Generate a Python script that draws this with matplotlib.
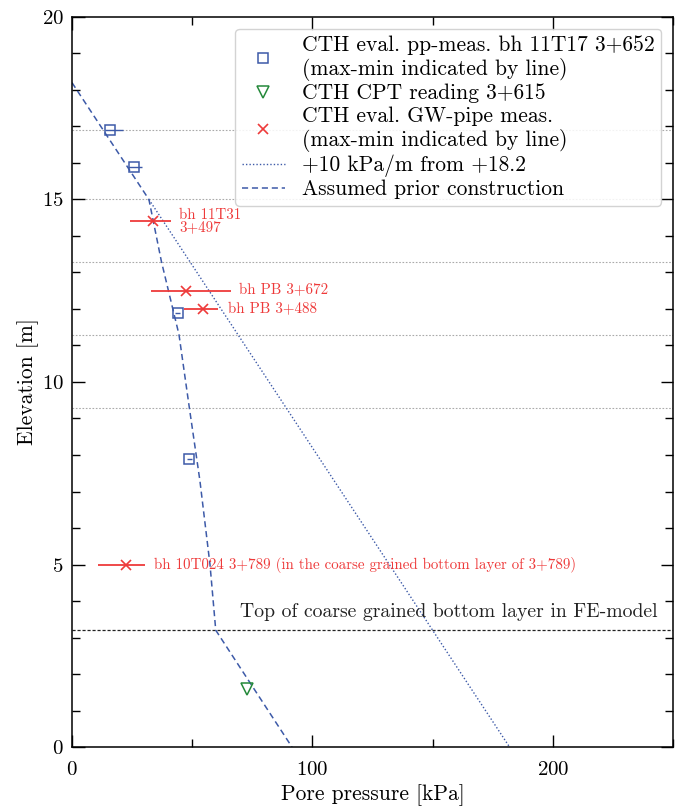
import matplotlib
matplotlib.use("Agg")
import matplotlib.pyplot as plt

# pore pressure measurements, bh 11T17 3+652 (kPa, m)
pp_p = [16.0, 26.0, 43.9, 48.8]
pp_z = [16.9, 15.9, 11.9, 7.9]
pp_lo = [13.6, 23.3, 42.9, 47.8]
pp_hi = [21.2, 29.0, 44.9, 49.8]

# CPT reading 3+615
cpt_p = [72.6]
cpt_z = [1.6]

# GW-pipe measurements
gw_p = [33.9, 47.5, 54.5, 22.3]
gw_z = [14.4, 12.5, 12.0, 5.0]
gw_lo = [24.0, 33.0, 46.7, 10.7]
gw_hi = [41.3, 66.0, 60.7, 30.2]
gw_names = ["bh 11T31\n3+497", "bh PB 3+672", "bh PB 3+488",
            "bh 10T024 3+789 (in the coarse grained bottom layer of 3+789)"]
gw_label_x = [44.5, 69.5, 65.0, 34.0]

# +10 kPa/m from +18.2
hyd_p = [32.0, 182.0]
hyd_z = [15.0, 0.0]

# assumed prior construction
prior_p = [0.0, 32.0, 37.2, 44.5, 48.8, 53.2, 57.4, 59.8, 91.5]
prior_z = [18.2, 15.0, 13.3, 11.3, 9.3, 7.3, 5.0, 3.2, 0.0]

# layer boundaries
layers_z = [16.9, 15.0, 13.3, 11.3, 9.3]
bottom_layer_z = 3.2

plt.rcParams.update({
    "font.family": "serif",
    "font.serif": ["cmr10"],
    "mathtext.fontset": "cm",
    "axes.formatter.use_mathtext": True,
    "font.size": 15,
})

blue = "#3d5aa8"
red = "#ee3a3a"
green = "#24893a"

fig = plt.figure(figsize=(6.83, 8.07), dpi=100)
ax = fig.add_axes([0.1054, 0.0743, 0.88, 0.9047])

for z in layers_z:
    ax.axhline(z, color="#aaaaaa", lw=0.8, ls=(0, (1.5, 1.5)), zorder=1)
ax.axhline(bottom_layer_z, color="#222222", lw=0.9, ls=(0, (2.5, 1.5)), zorder=1)
ax.text(243.5, bottom_layer_z + 0.25, "Top of coarse grained bottom layer in FE-model",
        ha="right", va="bottom", fontsize=14.2, color="#222222")

ax.hlines(pp_z, pp_lo, pp_hi, color=blue, lw=1.0, zorder=3)
ax.plot(pp_p, pp_z, ls="none", marker="s", ms=7, mfc="none", mec=blue, mew=1.1,
        label="CTH eval. pp-meas. bh 11T17 3+652\n(max-min indicated by line)", zorder=4)
ax.plot(cpt_p, cpt_z, ls="none", marker="v", ms=8, mfc="none", mec=green, mew=1.1,
        label="CTH CPT reading 3+615", zorder=4)
ax.hlines(gw_z, gw_lo, gw_hi, color=red, lw=1.3, zorder=3)
ax.plot(gw_p, gw_z, ls="none", marker="x", ms=7, color=red, mew=1.2,
        label="CTH eval. GW-pipe meas.\n(max-min indicated by line)", zorder=4)
for x, z, name in zip(gw_label_x, gw_z, gw_names):
    ax.text(x, z, name, color=red, fontsize=10.8, va="center", ha="left",
            linespacing=0.9)

ax.plot(hyd_p, hyd_z, color=blue, lw=1.0, ls=(0, (1, 1.5)),
        label="+10 kPa/m from +18.2", zorder=2)
ax.plot(prior_p, prior_z, color=blue, lw=1.1, ls=(0, (4, 2.5)),
        label="Assumed prior construction", zorder=2)

ax.set_xlim(0, 250)
ax.set_ylim(0, 20)
ax.set_xticks([0, 100, 200])
ax.set_xticks([50, 150, 250], minor=True)
ax.set_yticks([0, 5, 10, 15, 20])
ax.set_yticks([y for y in range(1, 20) if y % 5], minor=True)
ax.tick_params(which="both", direction="in", top=True, right=True, width=1.0)
ax.tick_params(which="major", length=9, labelsize=15, pad=6)
ax.tick_params(axis="x", which="major", pad=10)
ax.tick_params(which="minor", length=6)
for s in ax.spines.values():
    s.set_linewidth(1.1)
ax.set_xlabel("Pore pressure [kPa]", fontsize=15.5, labelpad=4)
ax.set_ylabel("Elevation [m]", fontsize=15.5, labelpad=2)

leg = ax.legend(loc="upper right", fontsize=15.5, handlelength=2.0,
                labelspacing=0.12, borderpad=0.3, borderaxespad=0.55,
                framealpha=0.85, edgecolor="#cccccc")

fig.savefig("out.png", dpi=100)
